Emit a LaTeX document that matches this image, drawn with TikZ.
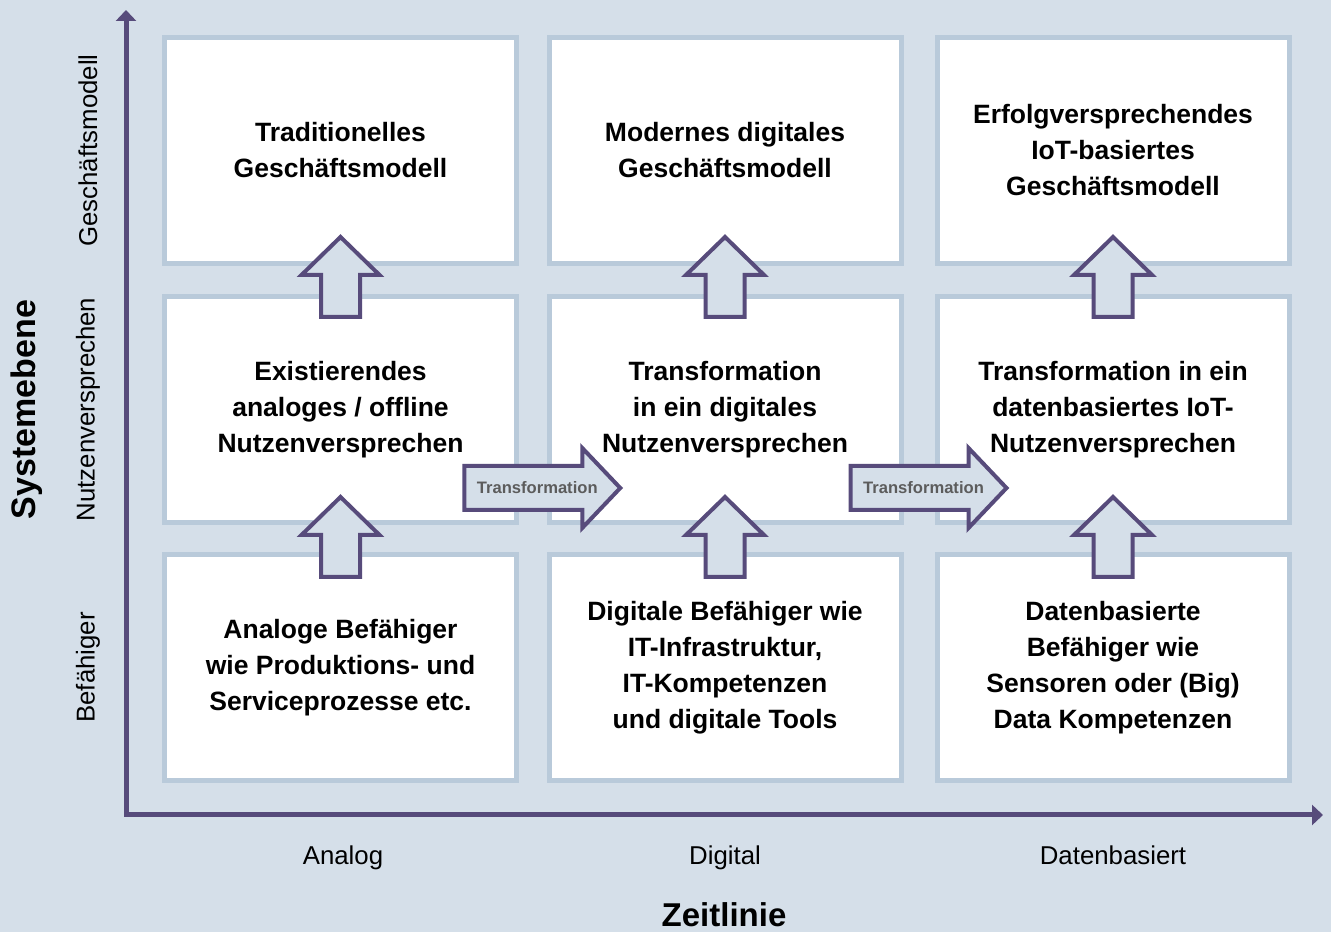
\documentclass[tikz,border=0pt]{standalone}
\usepackage{fontspec}
\setmainfont{Liberation Sans}
\usetikzlibrary{arrows.meta,calc}

\definecolor{grund}{HTML}{D5DFE9}
\definecolor{rahmen}{HTML}{B9CADA}
\definecolor{lila}{HTML}{574B7B}
\definecolor{trafograu}{HTML}{5C5C5C}

\tikzset{
    feld/.style={draw=rahmen, line width=5pt, fill=white, minimum width=352pt, minimum height=226pt,
        align=center, font=\fontsize{26.5}{36}\selectfont\bfseries},
    pfeil/.style={draw=lila, line width=4pt, fill=grund},
    achse/.style={draw=lila, line width=5pt, {Triangle[length=11pt,width=20pt]}-{Triangle[length=11pt,width=20pt]}},
    ebene/.style={rotate=90, font=\fontsize{25.8}{30}\selectfont},
    zeit/.style={anchor=base, font=\fontsize{25.8}{30}\selectfont},
    trafotext/.style={text=trafograu, font=\fontsize{16.6}{20}\selectfont\bfseries}
}

% block arrow pointing up, centred at #1
\newcommand{\hochpfeil}[1]{\draw[pfeil] #1 +(-19.5,-40) -- +(-19.5,2) -- +(-39,2) -- +(0,40) -- +(39,2) -- +(19.5,2) -- +(19.5,-40) -- cycle;}
% block arrow pointing right with label, centred at #1
\newcommand{\querpfeil}[2]{\draw[pfeil] #1 +(-78,-22) -- +(40,-22) -- +(40,-40) -- +(78,0) -- +(40,40) -- +(40,22) -- +(-78,22) -- cycle;
    \path #1 ++(-5,0) node[trafotext] (#2) {Transformation};}

\begin{document}
\begin{tikzpicture}[x=1pt, y=1pt]
                % Background:
                \fill[grund] (0,0) rectangle (1331,932);
                \useasboundingbox (0,0) rectangle (1331,932);

                % Axes:
                \coordinate (ursprung) at (126,117);
                \coordinate (yspitze) at (126,922);
                \coordinate (xspitze) at (1323,117);
                \draw[achse] (yspitze) -- (ursprung) -- (xspitze);

                % Fields:
                \node[feld] (t1) at (340.5,781.5) {Traditionelles\\Geschäftsmodell};
                \node[feld] (t2) at (725,781.5) {Modernes digitales\\Geschäftsmodell};
                \node[feld] (t3) at (1113,781.5) {Erfolgversprechendes\\IoT-basiertes\\Geschäftsmodell};
                \node[feld] (m1) at (340.5,522.5) {Existierendes\\analoges / offline\\Nutzenversprechen};
                \node[feld] (m2) at (725,522.5) {Transformation\\in ein digitales\\Nutzenversprechen};
                \node[feld] (m3) at (1113,522.5) {Transformation in ein\\datenbasiertes IoT-\\Nutzenversprechen};
                \node[feld] (b1) at (340.5,264.5) {Analoge Befähiger\\wie Produktions- und\\Serviceprozesse etc.};
                \node[feld] (b2) at (725,264.5) {Digitale Befähiger wie\\IT-Infrastruktur,\\IT-Kompetenzen\\und digitale Tools};
                \node[feld] (b3) at (1113,264.5) {Datenbasierte\\Befähiger wie\\Sensoren oder (Big)\\Data Kompetenzen};

                % Arrows between the levels:
                \foreach \s in {1,2,3}{
                    \hochpfeil{($(t\s.south)!0.5!(m\s.north)+(0,3)$)}
                    \hochpfeil{($(m\s.south)!0.5!(b\s.north)+(0,1.5)$)}
                }
                \querpfeil{($(m1.east)!0.5!(m2.west)+(9.5,-78.5)$)}{tr1}
                \querpfeil{($(m2.east)!0.5!(m3.west)+(9.5,-78.5)$)}{tr2}

                % Axis labels:
                \coordinate (ylab) at (88,0);
                \coordinate (ytitel) at (27,0);
                \coordinate (xlab) at (0,67);
                \node[ebene] (lg) at (ylab |- t1) {Geschäftsmodell};
                \node[ebene] (ln) at (ylab |- m1) {Nutzenversprechen};
                \node[ebene] (lb) at (ylab |- b1) {Befähiger};
                \node[rotate=90, font=\fontsize{34}{40}\selectfont\bfseries] (sy) at (ytitel |- m1) {Systemebene};
                \node[zeit] (xa) at ($(xlab -| t1)+(2.5,0)$) {Analog};
                \node[zeit] (xd) at (xlab -| t2) {Digital};
                \node[zeit] (xb) at (xlab -| t3) {Datenbasiert};
                \node[font=\fontsize{33}{40}\selectfont\bfseries] (zl) at (724,17) {Zeitlinie};
            \end{tikzpicture}
\end{document}
